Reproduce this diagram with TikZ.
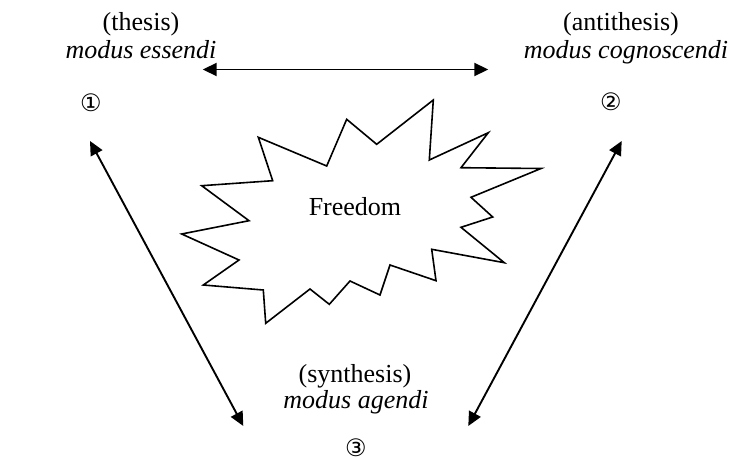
\documentclass[tikz,border=0pt]{standalone}
\usepackage{fontspec}
\setmainfont{Liberation Serif}
\newfontfamily\circfont{DejaVu Sans}
\usetikzlibrary{arrows.meta}
\tikzset{
  lbl/.style={anchor=base, inner sep=0pt, font=\fontsize{26}{28}\selectfont},
  num/.style={inner sep=0pt, font=\circfont\fontsize{24}{24}\selectfont},
  dbl/.style={line width=1.9pt, {Triangle[length=14pt,width=13pt]}-{Triangle[length=14pt,width=13pt]}},
  burst/.style={line width=1.6pt, line join=miter, fill=white}
}
\begin{document}
\begin{tikzpicture}[x=1pt,y=-1pt]
\useasboundingbox (0,0) rectangle (731,460);
% burst
\draw[burst] (258.3,137.3) -- (326.7,166) -- (346.7,119.3) -- (376.7,144.3) -- (433.3,100) -- (429.3,160) -- (488.3,132.7) -- (461,167.7) -- (541,168.5) -- (471,197.3) -- (492.7,217) -- (461,227.3) -- (504.3,262.7) -- (431.7,249.3) -- (436,280.7) -- (390,265) -- (380,295) -- (350,281) -- (329.3,304.3) -- (310,289) -- (265.7,323.3) -- (263.3,290) -- (203.3,285) -- (239,260) -- (181.7,234) -- (249,220.7) -- (201.7,185.7) -- (272.7,180.7) -- cycle;
\node[lbl] (free) at (355,215) {Freedom};
% labels
\node[lbl] (t1) at (141,31) {(thesis)};
\node[lbl] (t2) at (141,59) {\itshape modus essendi};
\node[num] (n1) at (91,102.5) {①};
\node[lbl] (a1) at (621,31) {(antithesis)};
\node[lbl] (a2) at (626,59) {\itshape modus cognoscendi};
\node[num] (n2) at (611,102) {②};
\node[lbl] (s1) at (355,382) {(synthesis)};
\node[lbl] (s2) at (356,408) {\itshape modus agendi};
\node[num] (n3) at (356,447.5) {③};
% arrow ends
\coordinate (h1) at (202.7,69.5);
\coordinate (h2) at (488.3,69.5);
\coordinate (l1) at (90,141);
\coordinate (l2) at (243.3,426);
\coordinate (r1) at (621.7,141);
\coordinate (r2) at (468.3,426);
\draw[dbl] (h1) -- (h2);
\draw[dbl] (l1) -- (l2);
\draw[dbl] (r1) -- (r2);
\end{tikzpicture}
\end{document}
